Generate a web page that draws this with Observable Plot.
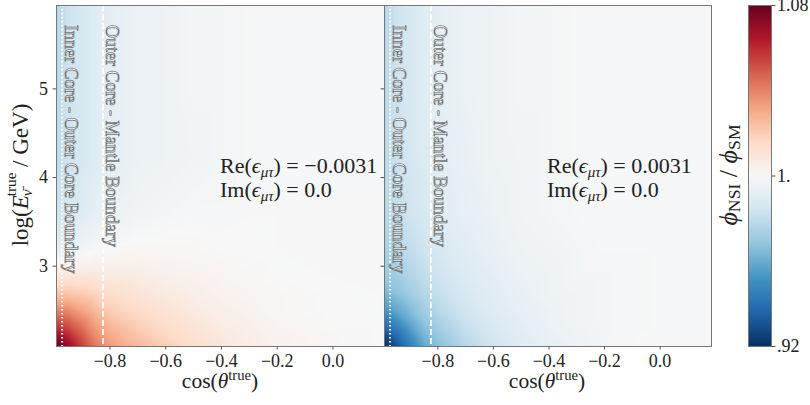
<!DOCTYPE html>
<html>
<head>
<meta charset="utf-8">
<script src="https://cdn.jsdelivr.net/npm/d3@7"></script>
<script src="https://cdn.jsdelivr.net/npm/@observablehq/plot@0.6"></script>
<style>
  body { margin: 0; background: #fff; }
  #fig { position: relative; width: 810px; height: 405px; overflow: hidden;
         font-family: "Liberation Serif", "DejaVu Serif", serif; color: #222; }
  #fig svg { position: absolute; top: 0; overflow: visible; }
  .lbl { position: absolute; white-space: nowrap; line-height: 1; }
  .lbl sub { font-size: 0.68em; vertical-align: -0.28em; line-height: 0; }
  .lbl sup { font-size: 0.68em; vertical-align: 0.55em; line-height: 0; }
</style>
</head>
<body>
<div id="fig"></div>
<script>
// Grid of sample points: cos(theta_true) columns, log10(E / GeV) rows
const cosTheta = [-0.992, -0.95, -0.9, -0.85, -0.8, -0.7, -0.6, -0.5, -0.4, -0.3, -0.2, 0.0, 0.185];
const logE = [2.095, 2.2, 2.35, 2.5, 2.7, 2.9, 3.2, 3.6, 4.2, 5.0, 5.94];

// phi_NSI / phi_SM for Re(eps_mutau) = -0.0031
const ratioNeg = [
  [1.080, 1.070, 1.055, 1.042, 1.034, 1.026, 1.020, 1.014, 1.010, 1.006, 1.003, 1.001, 1.000],
  [1.072, 1.062, 1.050, 1.038, 1.031, 1.023, 1.017, 1.012, 1.008, 1.005, 1.003, 1.001, 1.000],
  [1.055, 1.050, 1.042, 1.032, 1.026, 1.019, 1.014, 1.010, 1.006, 1.004, 1.002, 1.000, 1.000],
  [1.040, 1.038, 1.032, 1.025, 1.020, 1.015, 1.011, 1.007, 1.005, 1.003, 1.001, 1.000, 0.9995],
  [1.022, 1.022, 1.020, 1.017, 1.014, 1.010, 1.007, 1.005, 1.003, 1.002, 1.001, 1.000, 0.9995],
  [1.008, 1.009, 1.009, 1.008, 1.007, 1.006, 1.004, 1.003, 1.002, 1.001, 1.000, 0.9995, 0.9995],
  [0.992, 0.994, 0.997, 0.999, 1.000, 1.001, 1.001, 1.001, 1.000, 1.000, 0.9995, 0.9995, 0.9995],
  [0.983, 0.986, 0.990, 0.993, 0.995, 0.997, 0.998, 0.999, 0.999, 0.9995, 0.9995, 0.9995, 0.9995],
  [0.979, 0.983, 0.987, 0.990, 0.992, 0.995, 0.996, 0.997, 0.998, 0.999, 0.999, 0.999, 0.999],
  [0.978, 0.983, 0.987, 0.990, 0.992, 0.995, 0.996, 0.998, 0.998, 0.999, 0.999, 0.999, 0.999],
  [0.977, 0.983, 0.987, 0.990, 0.992, 0.995, 0.996, 0.998, 0.998, 0.999, 0.999, 0.999, 0.999]
];

// phi_NSI / phi_SM for Re(eps_mutau) = +0.0031
const ratioPos = [
  [0.920, 0.930, 0.945, 0.958, 0.966, 0.977, 0.984, 0.990, 0.993, 0.996, 0.998, 0.9995, 0.999],
  [0.925, 0.937, 0.950, 0.962, 0.969, 0.979, 0.986, 0.991, 0.994, 0.996, 0.998, 0.9995, 0.999],
  [0.940, 0.948, 0.958, 0.967, 0.973, 0.982, 0.988, 0.992, 0.995, 0.997, 0.998, 0.999, 0.999],
  [0.953, 0.958, 0.965, 0.972, 0.977, 0.985, 0.990, 0.993, 0.995, 0.997, 0.998, 0.999, 0.999],
  [0.964, 0.967, 0.972, 0.977, 0.981, 0.987, 0.991, 0.994, 0.996, 0.997, 0.998, 0.999, 0.999],
  [0.970, 0.972, 0.976, 0.980, 0.984, 0.989, 0.992, 0.995, 0.996, 0.998, 0.998, 0.999, 0.999],
  [0.974, 0.977, 0.980, 0.984, 0.987, 0.991, 0.994, 0.996, 0.997, 0.998, 0.999, 0.999, 0.999],
  [0.977, 0.980, 0.984, 0.987, 0.990, 0.993, 0.995, 0.997, 0.998, 0.999, 0.999, 0.999, 0.999],
  [0.978, 0.982, 0.986, 0.989, 0.991, 0.994, 0.996, 0.997, 0.998, 0.999, 0.999, 0.999, 0.999],
  [0.978, 0.983, 0.987, 0.990, 0.992, 0.995, 0.996, 0.998, 0.998, 0.999, 0.999, 0.999, 0.999],
  [0.977, 0.983, 0.987, 0.990, 0.992, 0.995, 0.996, 0.998, 0.998, 0.999, 0.999, 0.999, 0.999]
];

const epsRe = [-0.0031, 0.0031];
const epsIm = [0.0, 0.0];

const xTicks = [-0.8, -0.6, -0.4, -0.2, 0.0];
const yTicks = [3, 4, 5];
const cbarTicks = [0.92, 1.0, 1.08];
const cbarTickLabels = [".92", "1.", "1.08"];

// Earth-layer boundaries in cos(theta_true)
const boundaries = [-0.972, -0.825];
const boundaryLabels = ["Inner Core - Outer Core Boundary", "Outer Core - Mantle Boundary"];

// Diverging colour ramp (ColorBrewer RdBu, low = blue, high = red)
const rdbu = ["#053061", "#2166ac", "#4393c3", "#92c5de", "#d1e5f0", "#f7f7f7",
              "#fddbc7", "#f4a582", "#d6604d", "#b2182b", "#67001f"];
const vmin = 0.92, vmax = 1.08;
const colorScale = {
  type: "linear",
  domain: rdbu.map((_, i) => vmin + (vmax - vmin) * i / (rdbu.length - 1)),
  range: rdbu,
  interpolate: "rgb",
  clamp: true
};

const xDomain = [cosTheta[0], cosTheta[cosTheta.length - 1]];
const yDomain = [logE[0], logE[logE.length - 1]];
const fontFamily = '"Liberation Serif", "DejaVu Serif", serif';
const fig = document.getElementById("fig");

function samples(grid) {
  return logE.flatMap((y, i) => cosTheta.map((x, j) => ({x, y, v: grid[i][j]})));
}

function panel(grid, {left, width, marginLeft, marginRight, yLabels}) {
  const svg = Plot.plot({
    width, height: 405,
    marginTop: 5, marginBottom: 59, marginLeft, marginRight,
    x: {domain: xDomain},
    y: {domain: yDomain},
    color: colorScale,
    style: {fontFamily, fontSize: "18px", color: "#222", background: "transparent", overflow: "visible"},
    marks: [
      Plot.raster(samples(grid), {
        x: "x", y: "y", fill: "v", interpolate: "barycentric",
        x1: xDomain[0], x2: xDomain[1], y1: yDomain[0], y2: yDomain[1]
      }),
      Plot.ruleX([boundaries[0]], {stroke: "white", strokeWidth: 2, strokeDasharray: "1.6,2.4"}),
      Plot.ruleX([boundaries[1]], {stroke: "white", strokeWidth: 1.8, strokeDasharray: "6,3"}),
      Plot.text(boundaryLabels, {
        x: (d, i) => boundaries[i], y: 5.72, text: d => d,
        rotate: 90, textAnchor: "start", lineAnchor: "bottom", dx: 3,
        fill: "white", stroke: "#707070", strokeWidth: 0.75, paintOrder: "fill",
        fontSize: 18
      }),
      Plot.frame({stroke: "#777"}),
      Plot.axisX({ticks: xTicks, tickFormat: d3.format(".1f"), tickSize: 3.5, tickPadding: 4, label: null, stroke: "#555"}),
      Plot.axisY({ticks: yTicks, tickFormat: yLabels ? d => String(d) : () => "", tickSize: 3.5, tickPadding: 5, label: null, stroke: "#555"})
    ]
  });
  svg.style.left = left + "px";
  fig.appendChild(svg);
  return svg;
}

const leftSvg = panel(ratioNeg, {left: 0, width: 384, marginLeft: 56, marginRight: 0, yLabels: true});
panel(ratioPos, {left: 380, width: 334, marginLeft: 4, marginRight: 3, yLabels: false});

// Colour bar
const cbarLabel = new Map(cbarTicks.map((t, i) => [t, cbarTickLabels[i]]));
const cbar = Plot.plot({
  width: 110, height: 405,
  marginTop: 5, marginBottom: 59, marginLeft: 48, marginRight: 39,
  x: {domain: [0, 1], axis: null},
  y: {domain: [vmin, vmax]},
  color: colorScale,
  style: {fontFamily, fontSize: "18px", color: "#222", background: "transparent", overflow: "visible"},
  marks: [
    Plot.raster({x1: 0, x2: 1, y1: vmin, y2: vmax, fill: (x, y) => y}),
    Plot.frame({stroke: "#777"}),
    Plot.axisY({anchor: "right", ticks: cbarTicks, tickFormat: d => cbarLabel.get(d), tickSize: 3.5, tickPadding: 2, label: null, stroke: "#555"})
  ]
});
cbar.style.left = "700px";
fig.appendChild(cbar);

// In-panel annotations and x labels (HTML, for sub/superscripts)
function addLabel(html, css) {
  const div = document.createElement("div");
  div.className = "lbl";
  div.innerHTML = html;
  Object.assign(div.style, css);
  fig.appendChild(div);
}

const fmtRe = d3.format(".4f"), fmtIm = d3.format(".1f");
const annoLeft = [220, 547];
epsRe.forEach((re, k) => {
  addLabel(`Re(<i>ϵ</i><sub><i>μτ</i></sub>) = ${fmtRe(re)}`, {left: annoLeft[k] + "px", top: "155px", fontSize: "22px"});
  addLabel(`Im(<i>ϵ</i><sub><i>μτ</i></sub>) = ${fmtIm(epsIm[k])}`, {left: annoLeft[k] + "px", top: "179px", fontSize: "22px"});
});

const xLabelCenters = [220, 547];
xLabelCenters.forEach(cx => {
  addLabel(`cos(<i>θ</i><sup>true</sup>)`, {left: cx + "px", top: "382px", fontSize: "21.5px", transform: "translate(-50%,-50%)"});
});

// Rotated axis titles as SVG text with stacked sub/superscripts
function rotatedTitle(svgNode, cx, cy, size, build) {
  const t = d3.select(svgNode).append("text")
    .attr("transform", `translate(${cx},${cy}) rotate(-90)`)
    .attr("text-anchor", "middle")
    .attr("dominant-baseline", "central")
    .attr("fill", "#222")
    .style("font-family", fontFamily)
    .style("font-size", size + "px");
  build(t, size);
}

rotatedTitle(leftSvg, 20, 175, 23, (t, s) => {
  t.append("tspan").text("log(");
  t.append("tspan").style("font-style", "italic").text("E");
  const sub = t.append("tspan").style("font-style", "italic").style("font-size", (s * 0.66) + "px")
    .attr("dy", s * 0.28).attr("dx", -1).text("ν̄");
  const w = sub.node().getComputedTextLength();
  t.append("tspan").style("font-size", (s * 0.66) + "px")
    .attr("dx", -w).attr("dy", -s * 0.72).text("true");
  t.append("tspan").attr("dy", s * 0.44).text(" / GeV)");
});

rotatedTitle(cbar, 28, 175, 26, (t, s) => {
  t.append("tspan").style("font-style", "italic").text("ϕ");
  t.append("tspan").style("font-size", (s * 0.68) + "px").attr("dy", s * 0.22).text("NSI");
  t.append("tspan").attr("dy", -s * 0.22).text(" / ");
  t.append("tspan").style("font-style", "italic").text("ϕ");
  t.append("tspan").style("font-size", (s * 0.68) + "px").attr("dy", s * 0.22).text("SM");
});
</script>
</body>
</html>
